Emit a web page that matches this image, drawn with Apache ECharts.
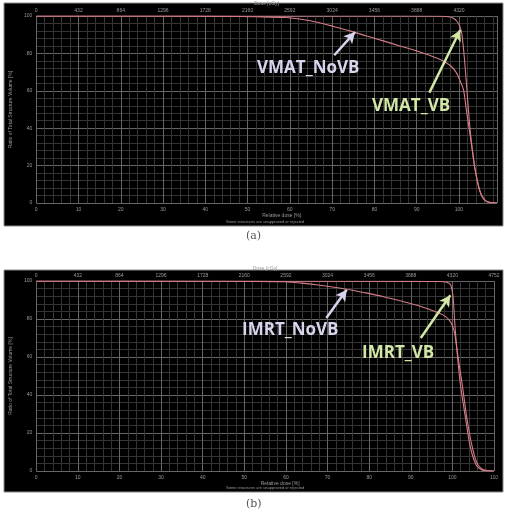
<!DOCTYPE html>
<html>
<head>
<meta charset="utf-8">
<script src="https://cdn.jsdelivr.net/npm/echarts/dist/echarts.min.js"></script>
<style>
  html, body { margin: 0; padding: 0; background: #fff; }
  #chart { width: 507px; height: 509px; }
</style>
</head>
<body>
<div id="chart"></div>
<script>
// relative dose (%) / volume (%)
const vmatVbDose = [0, 60, 90, 96, 97.6, 98.7, 99.5, 100.2, 100.7, 101.3, 101.9, 102.6, 103.2, 103.7, 104.3, 104.9, 105.6, 106.5, 107.5, 109]
const vmatVbVol = [100, 100, 100, 99.9, 99.6, 98.8, 97.2, 94.5, 90, 77, 60, 40, 28, 19.5, 12, 6.5, 2.8, 0.8, 0.2, 0]
const vmatNoVbDose = [0, 30, 45, 52, 59, 63, 66.7, 70.5, 74.4, 78.2, 82.1, 86, 89.9, 93, 95.3, 97, 98.4, 99.3, 99.9, 100.5, 101.1, 101.8, 102.6, 103.2, 103.7, 104.3, 104.9, 105.6, 106.5, 107.5, 109]
const vmatNoVbVol = [100, 100, 99.8, 99.6, 99.2, 98.1, 96.5, 94.3, 91.9, 89.3, 86.7, 84, 81.4, 79, 77, 75, 72.6, 70, 67.4, 64, 60.4, 49, 37, 27.5, 19.5, 12.5, 7, 3.2, 1, 0.3, 0]

const imrtVbDose = [0, 60, 90, 97, 98.4, 99.2, 99.6, 99.9, 100.2, 100.6, 101.2, 101.9, 102.5, 103.1, 103.6, 104, 104.6, 105.2, 105.9, 107, 108, 110]
const imrtVbVol = [100, 99.9, 99.8, 99.7, 99.5, 98.8, 97.9, 95.5, 91, 77, 61, 46, 37, 28.6, 21.5, 16, 10, 5.8, 2.5, 0.6, 0.1, 0]
const imrtNoVbDose = [0, 40, 52, 59.8, 63.7, 67.7, 71.6, 75.6, 79.5, 83.5, 87.4, 91.3, 94.2, 96.9, 98.3, 99.2, 99.9, 100.5, 101.1, 101.7, 102.4, 103.4, 104.3, 104.9, 105.5, 106.2, 107.3, 108.5, 110]
const imrtNoVbVol = [100, 99.9, 99.8, 99.6, 98.9, 97.9, 96.7, 95.3, 93.6, 91.7, 89.6, 87.4, 85.3, 83, 81.4, 79.5, 77, 73, 64, 55, 45, 29, 17.5, 11.5, 6.5, 3, 0.8, 0.2, 0]

const relTicks = [0, 10, 20, 30, 40, 50, 60, 70, 80, 90, 100, 110]
const doseTicks = [0, 432, 864, 1296, 1728, 2160, 2592, 3024, 3456, 3888, 4320, 4752]
const volTicks = [0, 20, 40, 60, 80, 100]

// annotation arrows: [fromDose, fromVol, toDose, toVol]
const vmatNoVbArrow = [70.5, 79, 75.4, 91.4]
const vmatVbArrow = [93, 59, 100.3, 92.5]
const imrtNoVbArrow = [69.7, 80.5, 74.6, 95.4]
const imrtVbArrow = [92.4, 70, 99.5, 92.5]

const pair = (xs, ys) => xs.map((x, i) => [x, ys[i]])

const curveColor = '#d67d88'
const majorLine = '#666666'
const minorLine = '#353535'
const tickText = '#9a9a9a'

function relAxis(gridIndex, max) {
  return {
    type: 'value', gridIndex: gridIndex, min: 0, max: max, interval: 10,
    name: 'Relative dose [%]', nameLocation: 'middle', nameGap: 10,
    nameTextStyle: { color: tickText, fontSize: 5, padding: [0, 0, 0, 30] },
    axisLine: { show: false }, axisTick: { show: false },
    axisLabel: { color: tickText, fontSize: 5, margin: 4, showMaxLabel: max === 110,
      formatter: v => relTicks.includes(v) ? String(v) : '' },
    splitLine: { show: true, lineStyle: { color: majorLine, width: 1 } },
    minorTick: { show: false, splitNumber: 5 },
    minorSplitLine: { show: true, lineStyle: { color: minorLine, width: 1 } }
  }
}

function doseAxis(gridIndex, max) {
  return {
    type: 'value', gridIndex: gridIndex, position: 'top', min: 0, max: max, interval: 432,
    name: 'Dose [cGy]', nameLocation: 'middle', nameGap: 10,
    nameTextStyle: { color: tickText, fontSize: 5 },
    axisLine: { show: false }, axisTick: { show: false }, splitLine: { show: false },
    axisLabel: { color: tickText, fontSize: 5, margin: 3, showMaxLabel: max >= 4752,
      formatter: v => doseTicks.includes(v) ? String(v) : '' }
  }
}

function volAxis(gridIndex) {
  return {
    type: 'value', gridIndex: gridIndex, min: 0, max: 100, interval: 20,
    name: 'Ratio of Total Structure Volume [%]', nameLocation: 'middle', nameGap: 15,
    nameTextStyle: { color: tickText, fontSize: 5 },
    axisLine: { show: false }, axisTick: { show: false },
    axisLabel: { color: tickText, fontSize: 5, margin: 4,
      formatter: v => volTicks.includes(v) ? String(v) : '' },
    splitLine: { show: true, lineStyle: { color: majorLine, width: 1 } },
    minorTick: { show: false, splitNumber: 5 },
    minorSplitLine: { show: true, lineStyle: { color: minorLine, width: 1 } }
  }
}

function curve(name, xIdx, yIdx, data) {
  return {
    name: name, type: 'line', xAxisIndex: xIdx, yAxisIndex: yIdx,
    data: data, smooth: 0.3, showSymbol: false,
    lineStyle: { color: curveColor, width: 1.1 }, z: 3
  }
}

function arrow(xIdx, yIdx, a, color) {
  return {
    type: 'line', xAxisIndex: xIdx, yAxisIndex: yIdx, data: [], silent: true,
    markLine: {
      silent: true, symbol: ['none', 'arrow'], symbolSize: [9, 11],
      label: { show: false },
      lineStyle: { color: color, width: 2.5, type: 'solid' },
      data: [[{ coord: [a[0], a[1]] }, { coord: [a[2], a[3]] }]]
    },
    z: 5
  }
}

const lavender = '#d9d3ee'
const green = '#d3e8a6'

const chart = echarts.init(document.getElementById('chart'))
chart.setOption({
  backgroundColor: '#ffffff',
  animation: false,
  graphic: [
    { type: 'rect', shape: { x: 4, y: 3, width: 499, height: 223 },
      style: { fill: '#000', stroke: '#8a8a8a', lineWidth: 1 }, z: -10 },
    { type: 'rect', shape: { x: 4, y: 270, width: 499, height: 222 },
      style: { fill: '#000', stroke: '#8a8a8a', lineWidth: 1 }, z: -10 },
    { type: 'text', left: 226, top: 220, style: { text: 'Some structures are unapproved or rejected', fill: tickText, font: '4px sans-serif' } },
    { type: 'text', left: 226, top: 486, style: { text: 'Some structures are unapproved or rejected', fill: tickText, font: '4px sans-serif' } },
    { type: 'text', left: 246, top: 231, style: { text: '(a)', fill: '#555', font: '11px "DejaVu Serif", serif' } },
    { type: 'text', left: 246, top: 499, style: { text: '(b)', fill: '#555', font: '11px "DejaVu Serif", serif' } },
    { type: 'text', left: 257, top: 60, z: 10, style: { text: 'VMAT_NoVB', fill: lavender, font: 'bold 17px "Open Sans", sans-serif' } },
    { type: 'text', left: 372, top: 98, z: 10, style: { text: 'VMAT_VB', fill: green, font: 'bold 17px "Open Sans", sans-serif' } },
    { type: 'text', left: 242, top: 322, z: 10, style: { text: 'IMRT_NoVB', fill: lavender, font: 'bold 17px "Open Sans", sans-serif' } },
    { type: 'text', left: 362, top: 345, z: 10, style: { text: 'IMRT_VB', fill: green, font: 'bold 17px "Open Sans", sans-serif' } }
  ],
  grid: [
    { left: 26, top: 13, right: 10, height: 190 },
    { left: 27, top: 281, right: 13, height: 190 }
  ],
  xAxis: [
    relAxis(0, 109), doseAxis(0, 109 * 43.2),
    relAxis(1, 110), doseAxis(1, 4752)
  ],
  yAxis: [volAxis(0), volAxis(1)],
  series: [
    curve('VMAT_NoVB', 0, 0, pair(vmatNoVbDose, vmatNoVbVol)),
    curve('VMAT_VB', 0, 0, pair(vmatVbDose, vmatVbVol)),
    curve('IMRT_NoVB', 2, 1, pair(imrtNoVbDose, imrtNoVbVol)),
    curve('IMRT_VB', 2, 1, pair(imrtVbDose, imrtVbVol)),
    arrow(0, 0, vmatNoVbArrow, lavender),
    arrow(0, 0, vmatVbArrow, green),
    arrow(2, 1, imrtNoVbArrow, lavender),
    arrow(2, 1, imrtVbArrow, green)
  ]
})
</script>
</body>
</html>
